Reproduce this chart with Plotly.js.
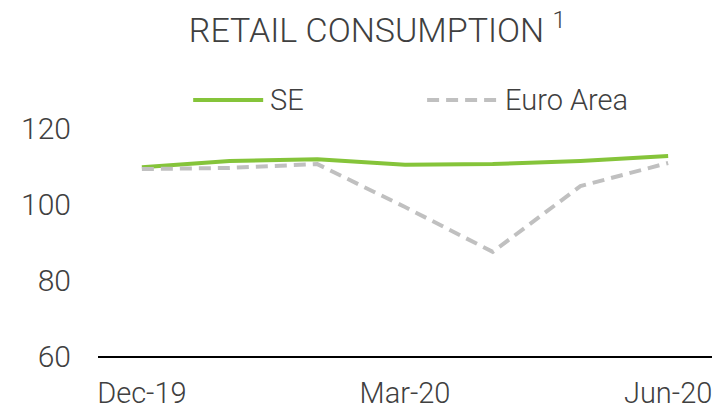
<!DOCTYPE html>
<html><head><meta charset="utf-8">
<script src="https://cdn.plot.ly/plotly-3.0.1.min.js"></script>
<style>html,body{margin:0;padding:0;background:#fff}#chart{width:720px;height:412px}</style>
</head><body><div id="chart"></div>
<script>
const months = ['Dec-19','Jan-20','Feb-20','Mar-20','Apr-20','May-20','Jun-20'];
const seValues = [109.7, 111.3, 111.8, 110.3, 110.5, 111.3, 112.6];
const euroValues = [109.2, 109.5, 110.5, 99.2, 87.4, 104.7, 110.8];
const xTickLabels = ['Dec-19','Mar-20','Jun-20'];
const yTicks = [60, 80, 100, 120];

const FONT = 'Roboto, "Open Sans", sans-serif';
const TXT = '#404040';
const GREEN = '#85C43A';
const GREY = '#C0C0C0';

const traces = [
  {x: months, y: seValues, name: 'SE', type: 'scatter', mode: 'lines',
   line: {color: GREEN, width: 4}},
  {x: months, y: euroValues, name: 'Euro Area', type: 'scatter', mode: 'lines',
   line: {color: GREY, width: 4, dash: '12px,7px'}}
];

const layout = {
  width: 720, height: 412,
  margin: {l: 98, r: 8, t: 128, b: 56},
  paper_bgcolor: '#fff', plot_bgcolor: '#fff',
  showlegend: false,
  font: {family: FONT, color: TXT, size: 30, weight: 300},
  title: {text: 'RETAIL CONSUMPTION <sup>1</sup>', x: 0.524, xanchor: 'center',
          y: 1 - 30/412, yref: 'container', yanchor: 'middle',
          font: {family: FONT, size: 34, color: TXT, weight: 300}},
  xaxis: {type: 'category', range: [-0.5, 6.5], tickmode: 'array', tickvals: xTickLabels,
          ticktext: xTickLabels, showgrid: false, zeroline: false, showline: true,
          linecolor: '#000', linewidth: 2, ticks: '', ticklabelstandoff: 10,
          tickfont: {family: FONT, size: 29, color: TXT, weight: 300}},
  yaxis: {range: [60, 120], tickmode: 'array', tickvals: yTicks, showgrid: false,
          zeroline: false, showline: false, ticks: '', ticklabelstandoff: 26,
          tickfont: {family: FONT, size: 30, color: TXT, weight: 300}},
  shapes: [
    {type: 'line', xref: 'paper', yref: 'paper', x0: 0.155, x1: 0.269, y0: 1.123, y1: 1.123,
     line: {color: GREEN, width: 4}},
    {type: 'line', xref: 'paper', yref: 'paper', x0: 0.536, x1: 0.650, y0: 1.123, y1: 1.123,
     line: {color: GREY, width: 4, dash: '12px,7px'}}
  ],
  annotations: [
    {text: 'SE', xref: 'paper', yref: 'paper', x: 0.277, y: 1.123, xanchor: 'left', yanchor: 'middle',
     showarrow: false, font: {family: FONT, size: 29, color: TXT, weight: 300}},
    {text: 'Euro Area', xref: 'paper', yref: 'paper', x: 0.660, y: 1.123, xanchor: 'left', yanchor: 'middle',
     showarrow: false, font: {family: FONT, size: 29, color: TXT, weight: 300}}
  ]
};

Plotly.newPlot('chart', traces, layout, {staticPlot: true, displayModeBar: false});
</script></body></html>
